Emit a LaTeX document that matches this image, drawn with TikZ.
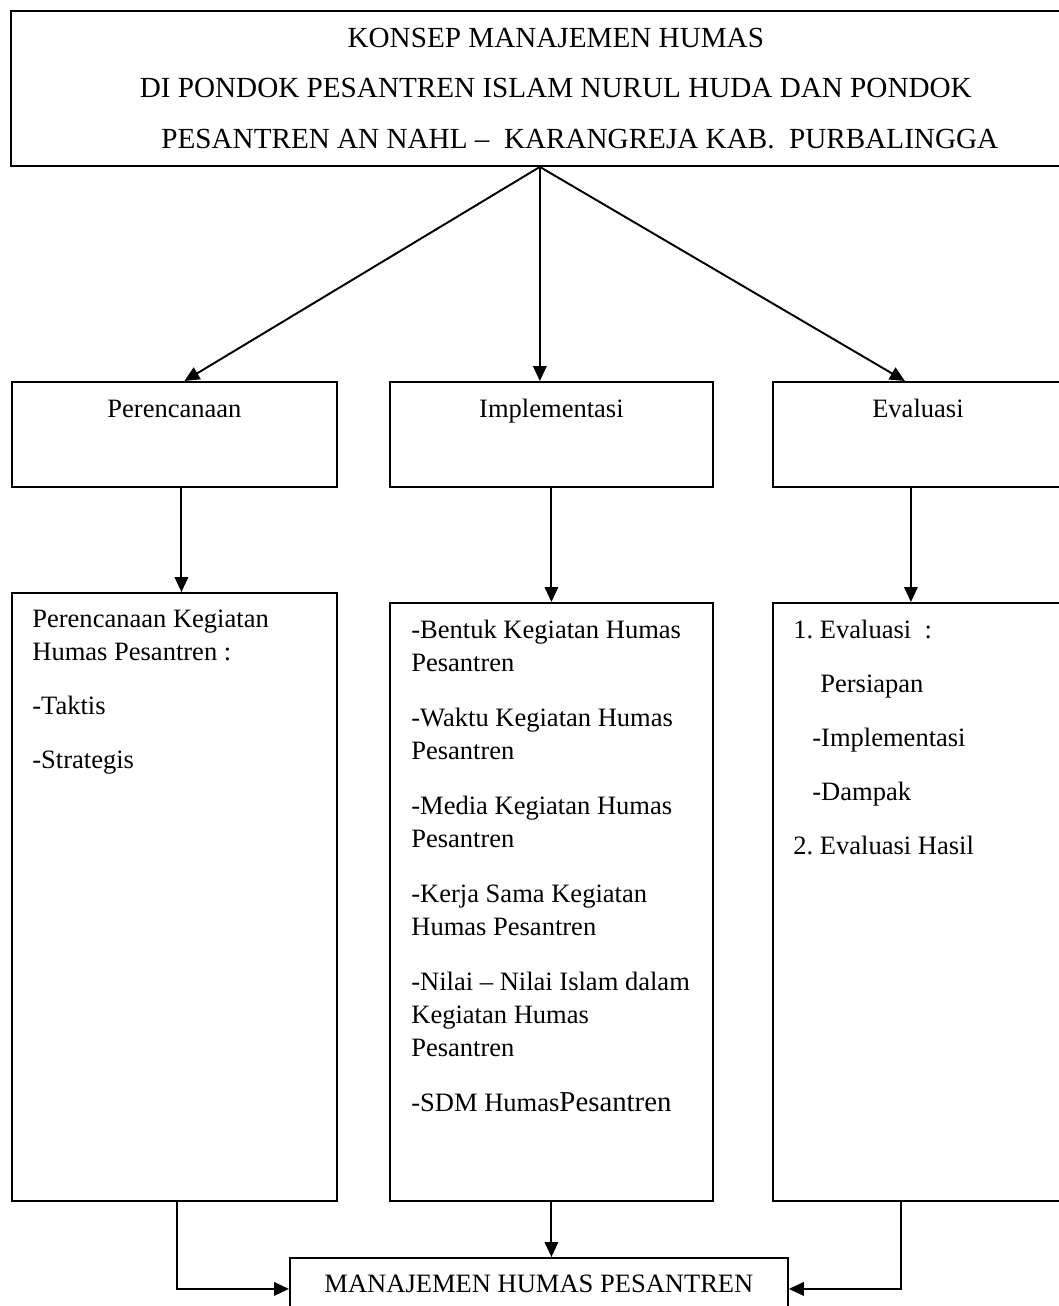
\documentclass[tikz,border=0pt]{standalone}
\usepackage{fontspec}
\setmainfont{Liberation Serif}
\usetikzlibrary{arrows.meta,calc}
\frenchspacing
\tikzset{
    box/.style={
    rectangle,draw=black,line width=1.1pt,anchor=north west,inner sep=0pt
    },
    stage/.style={
    box,text height=0.72cm,text depth=1.38cm
    },
    txt/.style={
    anchor=base west,inner sep=0pt,text width=6.4cm,align=flush left
    },
    arr/.style={
    line width=1.1pt,-{Triangle[length=0.3cm,width=0.27cm]}
    },
}
\begin{document}
\begin{tikzpicture}[x=0.02cm, y=-0.02cm, every node/.style={font=\fontsize{15.1}{18.8}\selectfont}]
   \useasboundingbox (0,0) rectangle (1059,1306);
   \node[box,minimum width=21.8cm,minimum height=3.1cm,align=center,font=\fontsize{16.6}{28.7}\selectfont] (konsep) at (10,10)
     {KONSEP MANAJEMEN HUMAS\\ DI PONDOK PESANTREN ISLAM NURUL HUDA DAN PONDOK\\ \hspace*{0.96cm}PESANTREN AN NAHL –\ \ KARANGREJA KAB.\ \ PURBALINGGA};

   \node[stage,minimum width=6.5cm] (plan) at (11,381) {Perencanaan};
   \node[stage,minimum width=6.46cm] (impl) at (389,381) {Implementasi};
   \node[stage,minimum width=5.8cm] (eval) at (772,381) {Evaluasi};

   \node[box,minimum width=6.5cm,minimum height=12.16cm] (planlist) at (11,592) {};
   \node[txt] (planitems) at (32,627) {Perencanaan Kegiatan\\ Humas Pesantren :\\[12pt] -Taktis\\[12pt] -Strategis};
   \node[box,minimum width=6.46cm,minimum height=11.96cm] (impllist) at (389,602) {};
   \node[txt] (implitems) at (411,638) {-Bentuk Kegiatan Humas\\ Pesantren\\[12.5pt]
     -Waktu Kegiatan Humas\\ Pesantren\\[12.5pt]
     -Media Kegiatan Humas\\ Pesantren\\[12.5pt]
     -Kerja Sama Kegiatan\\ Humas Pesantren\\[12.5pt]
     -Nilai – Nilai Islam dalam\\ Kegiatan Humas\\ Pesantren\\[12.5pt]
     -SDM Humas{\fontsize{16.4}{18.8}\selectfont Pesantren}};
   \node[box,minimum width=5.8cm,minimum height=11.96cm] (evallist) at (772,602) {};
   \node[txt] (evalitems) at (793,638) {1. Evaluasi\ \ :\\[12pt] \hspace*{0.54cm}Persiapan\\[12pt]
     \hspace*{0.38cm}-Implementasi\\[12pt] \hspace*{0.38cm}-Dampak\\[12pt] 2. Evaluasi Hasil};

   \node[box,minimum width=9.96cm,text height=0.7cm,text depth=1.2cm] (mhp) at (289,1257) {MANAJEMEN HUMAS PESANTREN};

   % konsep ke tiga tahap
   \coordinate (apex) at ($(konsep.south)+(-16,0)$);
   \draw[arr] (apex) -- ($(plan.north)+(10,0)$);
   \draw[arr] (apex) -- (apex |- impl.north);
   \draw[arr] (apex) -- ($(eval.north)+(-13,0)$);

   \draw[arr] ([xshift=0.14cm]plan.south) -- ([xshift=0.14cm]planlist.north);
   \draw[arr] (impl.south) -- (impllist.north);
   \draw[arr] ([xshift=-0.14cm]eval.south) -- ([xshift=-0.14cm]evallist.north);

   % ke manajemen humas pesantren
   \draw[arr] ([xshift=0.05cm]planlist.south) |- (mhp.mid west);
   \draw[arr] (impllist.south) -- (impllist.south |- mhp.north);
   \draw[arr] ([xshift=-0.34cm]evallist.south) |- (mhp.mid east);
\end{tikzpicture}
\end{document}
